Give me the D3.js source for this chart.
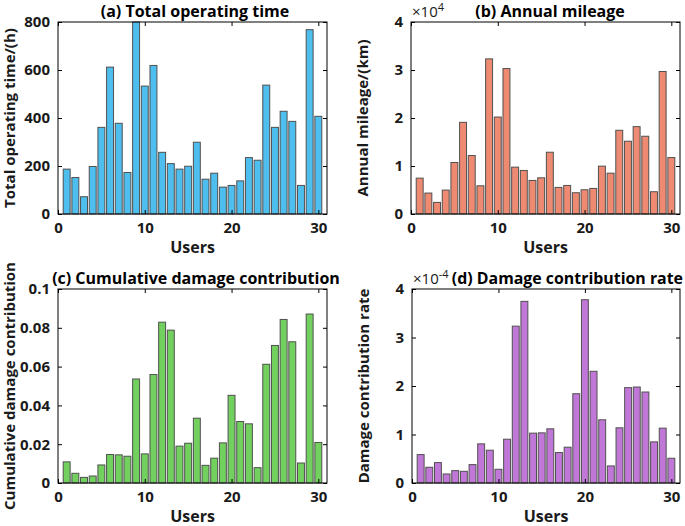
<!DOCTYPE html>
<html>
<head>
<meta charset="utf-8">
<script src="https://cdn.jsdelivr.net/npm/d3@7"></script>
<style>
  body { margin: 0; background: #fff; }
  svg text { font-family: "Open Sans", "Noto Sans", sans-serif; }
</style>
</head>
<body>
<svg id="chart" width="685" height="526"></svg>
<script>
// user index 1..30
const users = d3.range(1, 31);

// (a) total operating time, hours
const operatingTime = [187, 152, 72, 198, 361, 612, 378, 173, 800, 533,
    619, 257, 210, 187, 199, 299, 145, 170, 112, 119,
    138, 235, 224, 537, 361, 428, 386, 119, 768, 407];

// (b) annual mileage, km
const annualMileage = [7470, 4360, 2420, 4980, 10730, 19100, 12180, 5880, 32320, 20200,
    30300, 9760, 9070, 6990, 7540, 12870, 5540, 5950, 4430, 5050,
    5330, 9970, 8510, 17440, 15160, 18200, 16200, 4640, 29690, 11760];

// (c) cumulative damage contribution
const cumDamage = [0.0109, 0.0050, 0.0029, 0.0036, 0.0093, 0.0147, 0.0145, 0.0138, 0.0536, 0.0150,
    0.0559, 0.0829, 0.0788, 0.0190, 0.0205, 0.0334, 0.0091, 0.0128, 0.0207, 0.0452,
    0.0317, 0.0305, 0.0079, 0.0612, 0.0709, 0.0843, 0.0728, 0.0103, 0.0871, 0.0209];

// (d) damage contribution rate (x1e-4)
const damageRate = [0.586, 0.324, 0.421, 0.186, 0.255, 0.241, 0.379, 0.807, 0.676, 0.283,
    0.903, 3.234, 3.745, 1.028, 1.034, 1.117, 0.628, 0.738, 1.841, 3.779,
    2.303, 1.303, 0.352, 1.138, 1.966, 1.979, 1.876, 0.848, 1.131, 0.510].map(v => v * 1e-4);

const xTicks = [0, 10, 20, 30];

const panels = [
    {
        values: operatingTime, color: "#4dbeee",
        box: {left: 58, right: 327, top: 22, bottom: 214},
        yMax: 800, yTicks: [0, 200, 400, 600, 800], fmt: d => d,
        title: "(a)  Total operating time", titleX: 195, anchor: "middle",
        yLabel: "Total operating time/(h)"
    },
    {
        values: annualMileage, color: "#ee8a72",
        box: {left: 411, right: 680, top: 22, bottom: 214},
        yMax: 40000, yTicks: [0, 10000, 20000, 30000, 40000], fmt: d => d / 1e4,
        title: "(b)  Annual mileage", titleX: 550, anchor: "middle", exponent: "4",
        yLabel: "Annual mileage/(km)"
    },
    {
        values: cumDamage, color: "#72d15e",
        box: {left: 58, right: 327, top: 289, bottom: 483},
        yMax: 0.1, yTicks: [0, 0.02, 0.04, 0.06, 0.08, 0.1], fmt: d => d === 0 ? "0" : d3.format("~g")(d),
        title: "(c)  Cumulative damage contribution", titleX: 196, anchor: "middle",
        yLabel: "Cumulative damage contribution"
    },
    {
        values: damageRate, color: "#c077d8",
        box: {left: 412, right: 680, top: 289, bottom: 483},
        yMax: 4e-4, yTicks: [0, 1e-4, 2e-4, 3e-4, 4e-4], fmt: d => Math.round(d * 1e4),
        title: "(d)  Damage contribution rate", titleX: 683, anchor: "end", exponent: "-4",
        yLabel: "Damage contribution rate"
    }
];

const svg = d3.select("#chart");

function drawPanel(p) {
    const {left, right, top, bottom} = p.box;
    const g = svg.append("g");

    const x = d3.scaleLinear().domain([0, 31]).range([left, right]);
    const y = d3.scaleLinear().domain([0, p.yMax]).range([bottom, top]);
    const barW = 0.8;

    // Bars
    g.selectAll(".bar")
        .data(users)
        .enter()
        .append("rect")
        .attr("class", "bar")
        .attr("x", d => x(d - barW / 2))
        .attr("width", x(barW) - x(0))
        .attr("y", (d, i) => y(p.values[i]))
        .attr("height", (d, i) => y(0) - y(p.values[i]))
        .attr("fill", p.color)
        .attr("stroke", "#505050")
        .attr("stroke-width", 1);

    // Axes, ticks pointing inward like MATLAB
    const tickLen = 4;
    const fontTick = "bold 15px 'Open Sans'";

    g.append("g")
        .attr("transform", `translate(0,${bottom})`)
        .call(d3.axisBottom(x).tickValues(xTicks).tickSizeInner(-tickLen).tickSizeOuter(0).tickPadding(8))
        .call(s => s.select(".domain").remove())
        .call(s => s.selectAll("text").style("font", fontTick).attr("fill", "#1a1a1a"));

    g.append("g")
        .attr("transform", `translate(0,${top})`)
        .call(d3.axisTop(x).tickValues(xTicks).tickSizeInner(-tickLen).tickSizeOuter(0).tickFormat(""))
        .call(s => s.select(".domain").remove());

    g.append("g")
        .attr("transform", `translate(${left},0)`)
        .call(d3.axisLeft(y).tickValues(p.yTicks).tickSizeInner(-tickLen).tickSizeOuter(0).tickPadding(8).tickFormat(p.fmt))
        .call(s => s.select(".domain").remove())
        .call(s => s.selectAll("text").style("font", fontTick).attr("fill", "#1a1a1a"));

    g.append("g")
        .attr("transform", `translate(${right},0)`)
        .call(d3.axisRight(y).tickValues(p.yTicks).tickSizeInner(-tickLen).tickSizeOuter(0).tickFormat(""))
        .call(s => s.select(".domain").remove());

    g.append("rect")
        .attr("x", left).attr("y", top)
        .attr("width", right - left).attr("height", bottom - top)
        .attr("fill", "none").attr("stroke", "#000").attr("stroke-width", 1);

    // Exponent multiplier
    let expEnd = 0;
    if (p.exponent) {
        const t = g.append("text")
            .attr("x", left + 1)
            .attr("y", top - 5)
            .style("font", "15px 'Open Sans'")
            .attr("fill", "#1a1a1a");
        t.append("tspan").text("\u00d710");
        t.append("tspan").attr("dy", -6).style("font-size", "11px").text(p.exponent);
        expEnd = left + 1 + t.node().getComputedTextLength();
    }

    // Title (shrunk a little if it would run into the exponent)
    const titleSize = 16;
    const title = g.append("text")
        .attr("x", p.titleX)
        .attr("y", top - 5)
        .attr("text-anchor", p.anchor)
        .style("font", `bold ${titleSize}px 'Open Sans'`)
        .attr("fill", "#000")
        .text(p.title);
    if (p.anchor === "end" && expEnd) {
        const avail = p.titleX - expEnd - 3;
        const w = title.node().getComputedTextLength();
        if (w > avail) title.style("font-size", `${titleSize * avail / w}px`);
    }

    // Axis labels
    g.append("text")
        .attr("x", (left + right) / 2)
        .attr("y", bottom + 39)
        .attr("text-anchor", "middle")
        .style("font", "bold 16px 'Open Sans'")
        .attr("fill", "#1a1a1a")
        .text("Users");

    g.append("text")
        .attr("transform", `translate(${left - 43},${(top + bottom) / 2}) rotate(-90)`)
        .attr("text-anchor", "middle")
        .style("font", "bold 15px 'Open Sans'")
        .attr("fill", "#1a1a1a")
        .text(p.yLabel);
}

panels.forEach(drawPanel);
</script>
</body>
</html>
